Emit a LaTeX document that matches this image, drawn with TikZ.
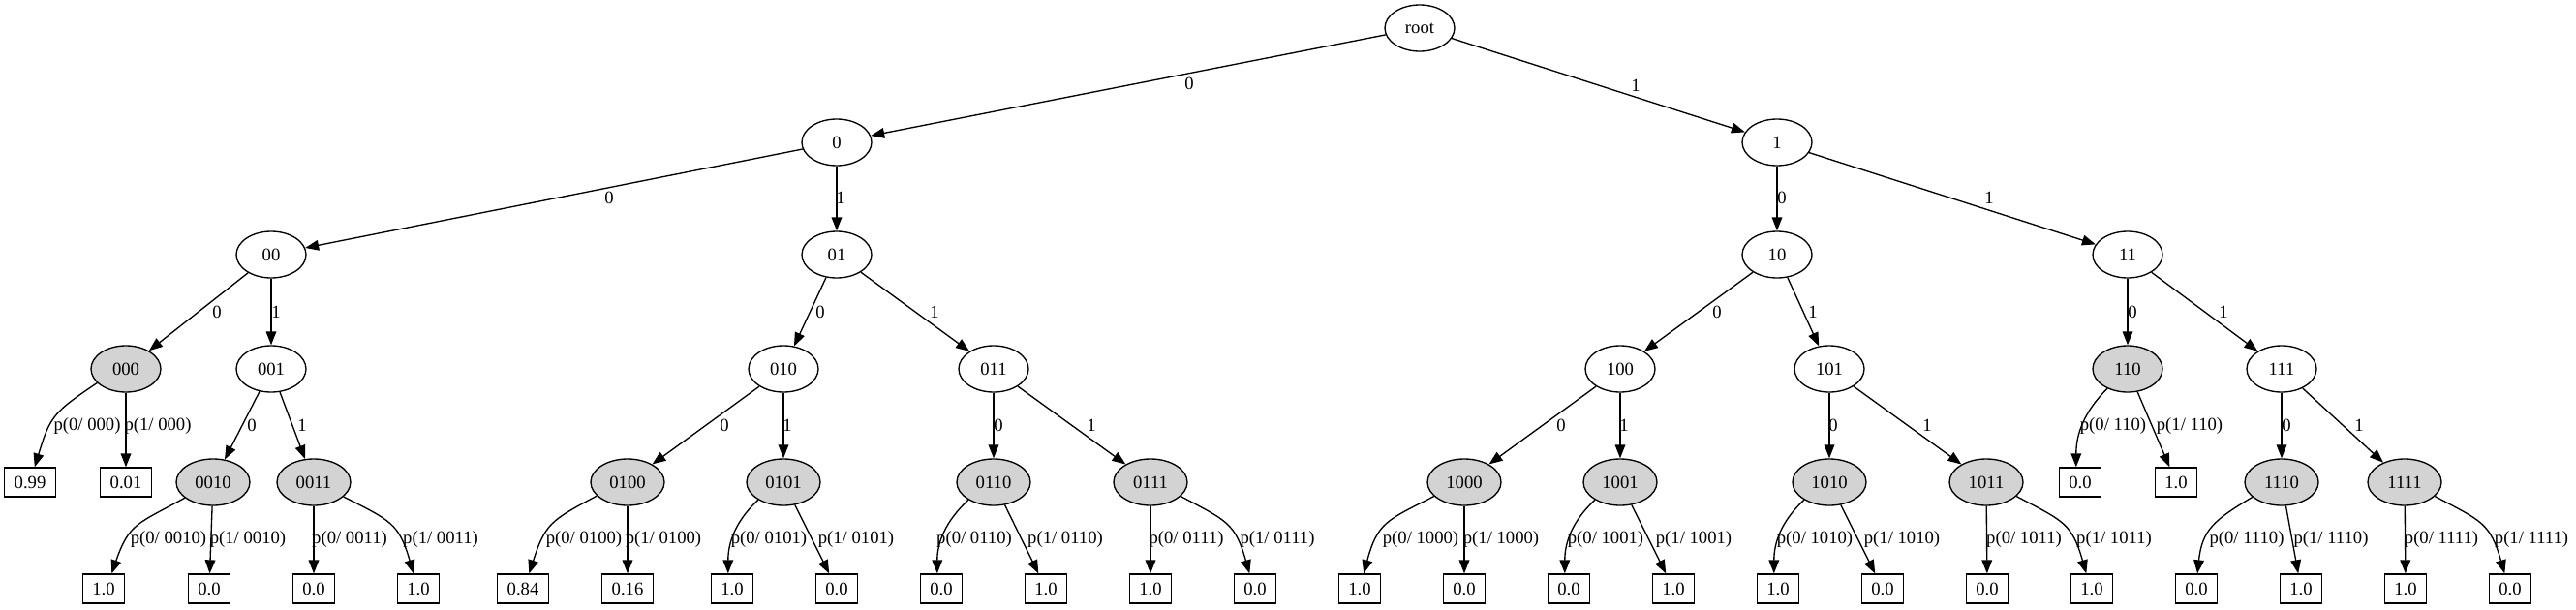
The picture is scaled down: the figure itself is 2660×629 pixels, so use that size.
\documentclass[tikz,border=0pt]{standalone}
\usepackage{fontspec}
\setmainfont{Liberation Serif}
\usetikzlibrary{arrows.meta,shapes.geometric}
\definecolor{gvgray}{HTML}{D3D3D3}
\begin{document}
\begin{tikzpicture}[x=0.75pt,y=0.75pt,
  every node/.style={font=\fontsize{14}{16}\selectfont},
  st/.style={ellipse, draw, line width=1pt, minimum width=54pt, minimum height=36pt, inner sep=0pt},
  lf/.style={st, fill=gvgray},
  lfw/.style={lf, minimum width=57pt},
  bx/.style={rectangle, draw, line width=1pt, minimum height=22.5pt, inner xsep=7.5pt, inner ysep=0pt},
  el/.style={inner sep=0pt},
  edge/.style={draw, line width=1pt, -{Triangle[length=10.5pt,width=8pt]}}]
\fill[white] (0,0) rectangle (2660,-629);
\useasboundingbox (0,0) rectangle (2660,-629);
% ellipse nodes
\node[st] (root) at (1466,-29) {root};
\node[st] (n0) at (864,-147) {0};
\node[st] (n1) at (1835,-147) {1};
\node[st] (n00) at (280,-263) {00};
\node[st] (n01) at (864,-263) {01};
\node[st] (n10) at (1835,-263) {10};
\node[st] (n11) at (2197,-263) {11};
\node[lf] (n000) at (130,-381) {000};
\node[st] (n001) at (280,-381) {001};
\node[st] (n010) at (809,-381) {010};
\node[st] (n011) at (1026,-381) {011};
\node[st] (n100) at (1673,-381) {100};
\node[st] (n101) at (1889,-381) {101};
\node[lf] (n110) at (2197,-381) {110};
\node[st] (n111) at (2356,-381) {111};
\node[lfw] (n0010) at (220,-498) {0010};
\node[lfw] (n0011) at (324,-498) {0011};
\node[lfw] (n0100) at (648,-498) {0100};
\node[lfw] (n0101) at (809,-498) {0101};
\node[lfw] (n0110) at (1026,-498) {0110};
\node[lfw] (n0111) at (1188,-498) {0111};
\node[lfw] (n1000) at (1512,-498) {1000};
\node[lfw] (n1001) at (1673,-498) {1001};
\node[lfw] (n1010) at (1889,-498) {1010};
\node[lfw] (n1011) at (2051,-498) {1011};
\node[lfw] (n1110) at (2356,-498) {1110};
\node[lfw] (n1111) at (2483,-498) {1111};
% boxes
\node[bx] (b000x0) at (31,-498) {0.99};
\node[bx] (b000x1) at (130,-498) {0.01};
\node[bx] (b110x0) at (2148,-498) {0.0};
\node[bx] (b110x1) at (2247,-498) {1.0};
\node[bx] (b0010x0) at (107,-608) {1.0};
\node[bx] (b0010x1) at (216,-608) {0.0};
\node[bx] (b0011x0) at (324,-608) {0.0};
\node[bx] (b0011x1) at (432,-608) {1.0};
\node[bx] (b0100x0) at (540,-608) {0.84};
\node[bx] (b0100x1) at (648,-608) {0.16};
\node[bx] (b0101x0) at (756,-608) {1.0};
\node[bx] (b0101x1) at (864,-608) {0.0};
\node[bx] (b0110x0) at (972,-608) {0.0};
\node[bx] (b0110x1) at (1080,-608) {1.0};
\node[bx] (b0111x0) at (1188,-608) {1.0};
\node[bx] (b0111x1) at (1296,-608) {0.0};
\node[bx] (b1000x0) at (1404,-608) {1.0};
\node[bx] (b1000x1) at (1512,-608) {0.0};
\node[bx] (b1001x0) at (1620,-608) {0.0};
\node[bx] (b1001x1) at (1728,-608) {1.0};
\node[bx] (b1010x0) at (1836,-608) {1.0};
\node[bx] (b1010x1) at (1944,-608) {0.0};
\node[bx] (b1011x0) at (2052,-608) {0.0};
\node[bx] (b1011x1) at (2160,-608) {1.0};
\node[bx] (b1110x0) at (2268,-608) {0.0};
\node[bx] (b1110x1) at (2376,-608) {1.0};
\node[bx] (b1111x0) at (2484,-608) {1.0};
\node[bx] (b1111x1) at (2592,-608) {0.0};
% tree edges
\draw[edge] (root) -- (n0);
\draw[edge] (root) -- (n1);
\draw[edge] (n0) -- (n00);
\draw[edge] (n0) -- (n01);
\draw[edge] (n1) -- (n10);
\draw[edge] (n1) -- (n11);
\draw[edge] (n00) -- (n000);
\draw[edge] (n00) -- (n001);
\draw[edge] (n01) -- (n010);
\draw[edge] (n01) -- (n011);
\draw[edge] (n10) -- (n100);
\draw[edge] (n10) -- (n101);
\draw[edge] (n11) -- (n110);
\draw[edge] (n11) -- (n111);
\draw[edge] (n001) -- (n0010);
\draw[edge] (n001) -- (n0011);
\draw[edge] (n010) -- (n0100);
\draw[edge] (n010) -- (n0101);
\draw[edge] (n011) -- (n0110);
\draw[edge] (n011) -- (n0111);
\draw[edge] (n100) -- (n1000);
\draw[edge] (n100) -- (n1001);
\draw[edge] (n101) -- (n1010);
\draw[edge] (n101) -- (n1011);
\draw[edge] (n111) -- (n1110);
\draw[edge] (n111) -- (n1111);
% leaf edges
\draw[edge] (n000.206) to[out=214,in=73,looseness=1.3] (b000x0.73);
\draw[edge] (n000) -- (b000x1);
\draw[edge] (n110.224) to[out=225,in=90] (b110x0.105);
\draw[edge] (n110) -- (b110x1);
\draw[edge] (n0010.209) to[out=209,in=71,looseness=1.3] (b0010x0.62);
\draw[edge] (n0010) -- (b0010x1);
\draw[edge] (n0011) -- (b0011x0);
\draw[edge] (n0011.-26) to[out=-27,in=106,looseness=1.3] (b0011x1.108);
\draw[edge] (n0100.204) to[out=208,in=72,looseness=1.3] (b0100x0.68);
\draw[edge] (n0100) -- (b0100x1);
\draw[edge] (n0101.215) to[out=223,in=90] (b0101x0.105);
\draw[edge] (n0101) -- (b0101x1);
\draw[edge] (n0110.215) to[out=223,in=90] (b0110x0.105);
\draw[edge] (n0110) -- (b0110x1);
\draw[edge] (n0111) -- (b0111x0);
\draw[edge] (n0111.-25) to[out=-28,in=106,looseness=1.3] (b0111x1.110);
\draw[edge] (n1000.205) to[out=207,in=75,looseness=1.3] (b1000x0.75);
\draw[edge] (n1000) -- (b1000x1);
\draw[edge] (n1001.215) to[out=223,in=90] (b1001x0.105);
\draw[edge] (n1001) -- (b1001x1);
\draw[edge] (n1010.215) to[out=223,in=90] (b1010x0.105);
\draw[edge] (n1010) -- (b1010x1);
\draw[edge] (n1011) -- (b1011x0);
\draw[edge] (n1011.-25) to[out=-28,in=106,looseness=1.3] (b1011x1.110);
\draw[edge] (n1110.207) to[out=211,in=84,looseness=1.2] (b1110x0.86);
\draw[edge] (n1110) -- (b1110x1);
\draw[edge] (n1111) -- (b1111x0);
\draw[edge] (n1111.-25) to[out=-28,in=106,looseness=1.3] (b1111x1.110);
% edge labels
\node[el] (eroot0) at (1228,-86) {0};
\node[el] (eroot1) at (1689,-88) {1};
\node[el] (e00) at (629,-204) {0};
\node[el] (e01) at (868,-204) {1};
\node[el] (e10) at (1840,-204) {0};
\node[el] (e11) at (2054,-204) {1};
\node[el] (e000) at (224,-322) {0};
\node[el] (e001) at (285,-322) {1};
\node[el] (e010) at (847,-322) {0};
\node[el] (e011) at (965,-322) {1};
\node[el] (e100) at (1773,-322) {0};
\node[el] (e101) at (1872,-322) {1};
\node[el] (e110) at (2202,-322) {0};
\node[el] (e111) at (2296,-322) {1};
\node[el] (e0010) at (260,-439) {0};
\node[el] (e0011) at (312,-439) {1};
\node[el] (e0100) at (748,-439) {0};
\node[el] (e0101) at (813,-439) {1};
\node[el] (e0110) at (1031,-439) {0};
\node[el] (e0111) at (1127,-439) {1};
\node[el] (e1000) at (1612,-439) {0};
\node[el] (e1001) at (1677,-439) {1};
\node[el] (e1010) at (1893,-439) {0};
\node[el] (e1011) at (1990,-439) {1};
\node[el] (e1110) at (2361,-439) {0};
\node[el] (e1111) at (2436,-439) {1};
% probability labels
\node[el] (p000x0) at (90,-440) {p(0/ 000)};
\node[el] (p000x1) at (163,-440) {p(1/ 000)};
\node[el] (p110x0) at (2182,-440) {p(0/ 110)};
\node[el] (p110x1) at (2261,-440) {p(1/ 110)};
\node[el] (p0010x0) at (174,-557) {p(0/ 0010)};
\node[el] (p0010x1) at (256,-557) {p(1/ 0010)};
\node[el] (p0011x0) at (361,-557) {p(0/ 0011)};
\node[el] (p0011x1) at (455,-557) {p(1/ 0011)};
\node[el] (p0100x0) at (603,-557) {p(0/ 0100)};
\node[el] (p0100x1) at (685,-557) {p(1/ 0100)};
\node[el] (p0101x0) at (794,-557) {p(0/ 0101)};
\node[el] (p0101x1) at (884,-557) {p(1/ 0101)};
\node[el] (p0110x0) at (1006,-557) {p(0/ 0110)};
\node[el] (p0110x1) at (1100,-557) {p(1/ 0110)};
\node[el] (p0111x0) at (1225,-557) {p(0/ 0111)};
\node[el] (p0111x1) at (1319,-557) {p(1/ 0111)};
\node[el] (p1000x0) at (1467,-557) {p(0/ 1000)};
\node[el] (p1000x1) at (1550,-557) {p(1/ 1000)};
\node[el] (p1001x0) at (1658,-557) {p(0/ 1001)};
\node[el] (p1001x1) at (1749,-557) {p(1/ 1001)};
\node[el] (p1010x0) at (1874,-557) {p(0/ 1010)};
\node[el] (p1010x1) at (1964,-557) {p(1/ 1010)};
\node[el] (p1011x0) at (2090,-557) {p(0/ 1011)};
\node[el] (p1011x1) at (2183,-557) {p(1/ 1011)};
\node[el] (p1110x0) at (2320,-557) {p(0/ 1110)};
\node[el] (p1110x1) at (2407,-557) {p(1/ 1110)};
\node[el] (p1111x0) at (2521,-557) {p(0/ 1111)};
\node[el] (p1111x1) at (2614,-557) {p(1/ 1111)};
\end{tikzpicture}
\end{document}
